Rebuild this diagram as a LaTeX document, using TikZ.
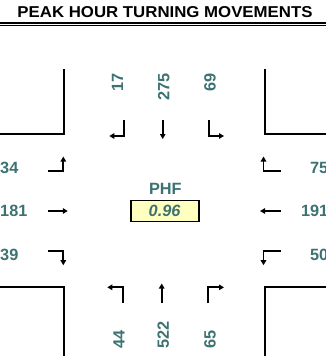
\documentclass[tikz,border=0pt]{standalone}
\usepackage{fontspec}
\setmainfont{Liberation Sans}
\usetikzlibrary{arrows.meta}
\definecolor{numteal}{HTML}{3D7272}
\definecolor{phfyellow}{HTML}{FFFFC0}
\tikzset{
  num/.style={font=\fontsize{16.3}{19}\selectfont\bfseries, text=numteal, inner sep=0pt, text depth=0pt},
  curb/.style={line width=2pt, line cap=rect},
  mov/.style={line width=1.8pt, -{Triangle[length=5pt,width=5.5pt]}},
}
\begin{document}
\begin{tikzpicture}[x=1pt,y=-1pt]
\useasboundingbox (0,0) rectangle (326,356);
\clip (0,0) rectangle (326,356);
% title
\node[inner sep=0pt] (title) at (165,12.2) {\resizebox{295pt}{11pt}{\bfseries PEAK HOUR TURNING MOVEMENTS}};
\draw[line width=2pt] (0,22.8) -- (326,22.8);
\draw[line width=0.9pt] (0,25.4) -- (326,25.4);
% curbs
\draw[curb] (0,134) -- (63.5,134) -- (63.5,69.5);
\draw[curb] (326,134) -- (264.5,134) -- (264.5,69.5);
\draw[curb] (0,287) -- (63.5,287) -- (63.5,358);
\draw[curb] (326,287) -- (264.5,287) -- (264.5,358);
% top numbers
\node[num, rotate=90, anchor=east] (sbl) at (117.5,73.3) {17};
\node[num, rotate=90, anchor=east] (sbt) at (163.7,73.3) {275};
\node[num, rotate=90, anchor=east] (sbr) at (210,73.3) {69};
% bottom numbers
\node[num, rotate=90, anchor=west] (nbl) at (119,348.7) {44};
\node[num, rotate=90, anchor=west] (nbt) at (163.3,348.7) {522};
\node[num, rotate=90, anchor=west] (nbr) at (210,348.7) {65};
% left numbers
\node[num, anchor=west] (ebl) at (0,167.8) {34};
\node[num, anchor=west] (ebt) at (0,210.8) {181};
\node[num, anchor=west] (ebr) at (0,255) {39};
% right numbers
\node[num, anchor=east] (wbr) at (328.5,167.8) {75};
\node[num, anchor=east] (wbt) at (328.5,210.8) {191};
\node[num, anchor=east] (wbl) at (328.5,255) {50};
% southbound arrows
\draw[mov] (124,119.5) -- (124,136) -- (109.3,136);
\draw[mov] (162.7,119.5) -- (162.7,139);
\draw[mov] (209.3,119.5) -- (209.3,136) -- (224,136);
% northbound arrows
\draw[mov] (122.7,303) -- (122.7,287.3) -- (107.3,287.3);
\draw[mov] (161.7,303) -- (161.7,283.5);
\draw[mov] (207.7,303) -- (207.7,287.3) -- (224,287.3);
% eastbound arrows
\draw[mov] (47.7,170.7) -- (63.3,170.7) -- (63.3,156.5);
\draw[mov] (47.7,211) -- (67.8,211);
\draw[mov] (47.7,251) -- (63.3,251) -- (63.3,265.2);
% westbound arrows
\draw[mov] (280.7,170.7) -- (263.5,170.7) -- (263.5,156.5);
\draw[mov] (280.7,211) -- (260,211);
\draw[mov] (280.7,251) -- (263.5,251) -- (263.5,265.2);
% PHF
\node[num] (phf) at (165.3,189.2) {PHF};
\node[draw=black, line width=1.8pt, fill=phfyellow, minimum width=68pt, minimum height=21pt, inner sep=0pt] (phfbox) at (164.6,210.9) {};
\node[num, font=\fontsize{16.3}{19}\selectfont\bfseries\itshape] (phfval) at (phfbox.center) {0.96};
\end{tikzpicture}
\end{document}
